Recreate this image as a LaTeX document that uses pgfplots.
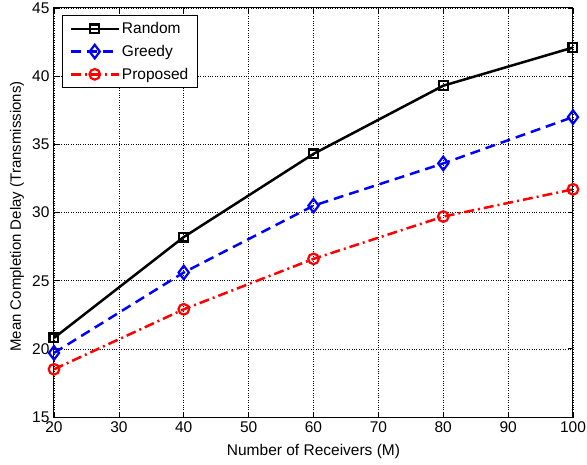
\documentclass[border=0pt]{standalone}
\usepackage{fontspec}
\setmainfont{Liberation Sans}
\usepackage{pgfplots}
\pgfplotsset{compat=1.18}

\begin{document}
\begin{tikzpicture}[x=1pt,y=1pt]
\useasboundingbox (-54,-47) rectangle (533,417);
\begin{axis}[
  at={(0,0)}, anchor=south west,
  width=519pt, height=409pt,
  scale only axis,
  xmin=20, xmax=100,
  ymin=15, ymax=45,
  xtick={20,30,...,100},
  ytick={15,20,...,45},
  tick align=inside,
  major tick length=5pt,
  xmajorgrids, ymajorgrids,
  grid style={black, dotted, line width=0.6pt},
  axis line style={line width=1pt},
  every tick/.style={black, line width=0.7pt},
  font=\fontsize{15.5}{17}\selectfont,
  /pgf/number format/assume math mode=true,
  xticklabel style={yshift=-1pt},
  yticklabel style={xshift=-1pt},
  xlabel={Number of Receivers (M)},
  ylabel={Mean Completion Delay (Transmissions)},
  xlabel style={at={(axis description cs:0.5,0)}, anchor=south, yshift=-45pt},
  ylabel style={font=\fontsize{15}{17}\selectfont, at={(axis description cs:0,0.49)},
    anchor=center, yshift=37pt},
  legend style={at={(0,1)}, anchor=north west, xshift=8pt, yshift=-7pt,
    draw=black, line width=1pt, font=\fontsize{15.5}{17}\selectfont,
    row sep=6pt, inner xsep=7pt, inner ysep=5pt},
  legend cell align=left,
  legend image code/.code={%
    \draw[mark repeat=2, mark phase=2] plot coordinates {(0pt,0pt) (24pt,0pt) (48pt,0pt)};},
]
% Random
\addplot[black, line width=2.5pt, mark=square, mark size=4.4pt,
  mark options={solid, line width=2.2pt}]
  coordinates {(20,20.8) (40,28.2) (60,34.3) (80,39.3) (100,42.1)};
\addlegendentry{Random}
% Greedy
\addplot[blue, line width=2.5pt, dash pattern=on 10pt off 6pt, mark=diamond, mark size=6.8pt,
  mark options={solid, line width=2.2pt}]
  coordinates {(20,19.7) (40,25.6) (60,30.5) (80,33.6) (100,37.0)};
\addlegendentry{Greedy}
% Proposed
\addplot[red, line width=2.5pt, dash pattern=on 10pt off 4pt on 2pt off 4pt, mark=o, mark size=5.3pt,
  mark options={solid, line width=2.2pt}]
  coordinates {(20,18.5) (40,22.9) (60,26.6) (80,29.7) (100,31.7)};
\addlegendentry{Proposed}
\end{axis}
\end{tikzpicture}
\end{document}
